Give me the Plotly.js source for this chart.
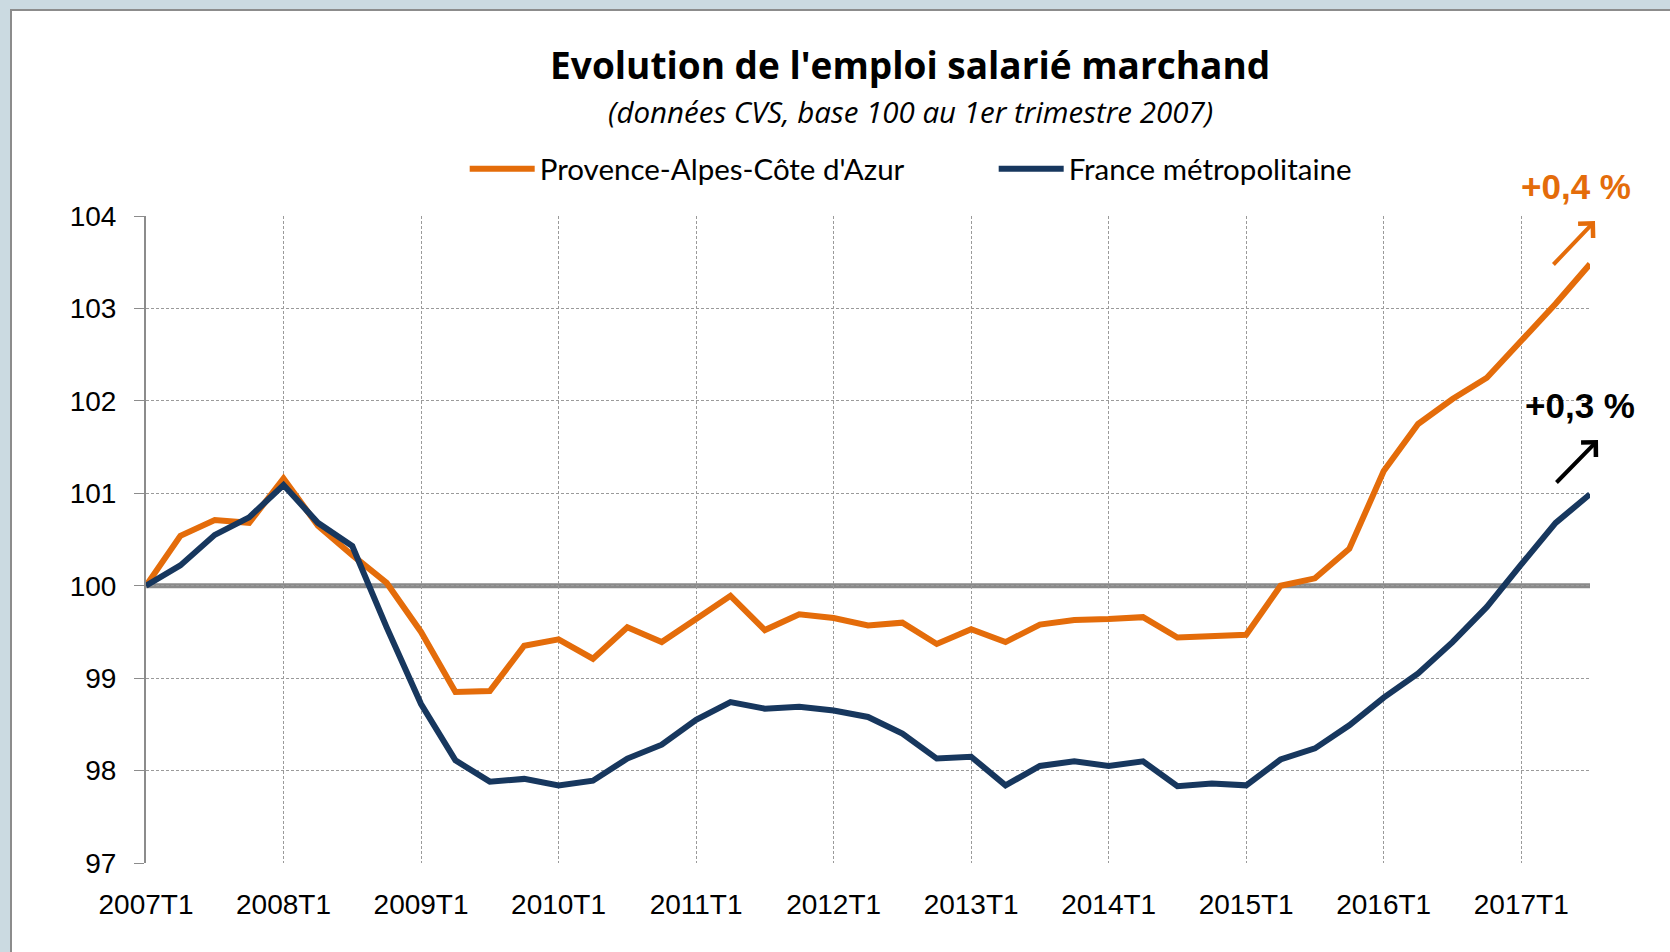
<!DOCTYPE html>
<html>
<head>
<meta charset="utf-8">
<script src="https://cdn.plot.ly/plotly-3.0.1.min.js"></script>
<style>
  html, body { margin: 0; padding: 0; background: #cbdae1; }
  #chart { width: 1670px; height: 952px; }
</style>
</head>
<body>
<div id="chart"></div>
<script>
// Quarterly categories 2007T1 .. 2017T3
const quarters = [
  "2007T1","2007T2","2007T3","2007T4",
  "2008T1","2008T2","2008T3","2008T4",
  "2009T1","2009T2","2009T3","2009T4",
  "2010T1","2010T2","2010T3","2010T4",
  "2011T1","2011T2","2011T3","2011T4",
  "2012T1","2012T2","2012T3","2012T4",
  "2013T1","2013T2","2013T3","2013T4",
  "2014T1","2014T2","2014T3","2014T4",
  "2015T1","2015T2","2015T3","2015T4",
  "2016T1","2016T2","2016T3","2016T4",
  "2017T1","2017T2","2017T3"
];

// Tick labels shown on the x axis
const xTickLabels = ["2007T1","2008T1","2009T1","2010T1","2011T1","2012T1",
                     "2013T1","2014T1","2015T1","2016T1","2017T1"];

// Provence-Alpes-Côte d'Azur (index, base 100 at 2007T1)
const paca = [
  100.00, 100.54, 100.71, 100.68,
  101.16, 100.65, 100.33, 100.03,
  99.50, 98.85, 98.86, 99.35,
  99.42, 99.21, 99.55, 99.39,
  99.64, 99.89, 99.52, 99.69,
  99.65, 99.57, 99.60, 99.37,
  99.53, 99.39, 99.58, 99.63,
  99.64, 99.66, 99.44, 99.46,
  99.47, 100.00, 100.08, 100.40,
  101.24, 101.75, 102.02, 102.25,
  102.65, 103.05, 103.48
];

// France métropolitaine
const france = [
  100.00, 100.22, 100.55, 100.74,
  101.09, 100.68, 100.43, 99.55,
  98.72, 98.11, 97.88, 97.91,
  97.84, 97.89, 98.13, 98.28,
  98.55, 98.74, 98.67, 98.69,
  98.65, 98.58, 98.40, 98.13,
  98.15, 97.84, 98.05, 98.10,
  98.05, 98.10, 97.83, 97.86,
  97.84, 98.12, 98.24, 98.49,
  98.79, 99.05, 99.39, 99.77,
  100.23, 100.68, 100.99
];

const seriesNames = ["Provence-Alpes-Côte d'Azur", "France métropolitaine"];
const seriesColors = ["#E46C0A", "#17375E"];
const yTicks = [97, 98, 99, 100, 101, 102, 103, 104];

const traces = [
  {
    x: quarters, y: paca, name: seriesNames[0], type: "scatter", mode: "lines",
    line: { color: seriesColors[0], width: 6 }
  },
  {
    x: quarters, y: france, name: seriesNames[1], type: "scatter", mode: "lines",
    line: { color: seriesColors[1], width: 6 }
  }
];

const tickFont = { family: "Liberation Sans, Arial, sans-serif", size: 28, color: "#000000" };

const layout = {
  width: 1670,
  height: 952,
  paper_bgcolor: "#cbdae1",
  plot_bgcolor: "rgba(0,0,0,0)",
  margin: { l: 146, r: 80, t: 216, b: 89, pad: 0 },
  showlegend: true,
  title: {
    text: "<b>Evolution de l'emploi salarié marchand</b>",
    font: { family: "Open Sans, Lato, sans-serif", size: 37, color: "#000000" },
    xref: "container", x: 0.545, xanchor: "center",
    yref: "container", y: 1 - 66 / 952, yanchor: "middle"
  },
  legend: {
    orientation: "h",
    x: 0.2207, xanchor: "left",
    y: 1.0726, yanchor: "middle",
    font: { family: "Lato, Open Sans, sans-serif", size: 29.5, color: "#000000" },
    bgcolor: "rgba(0,0,0,0)",
    itemwidth: 65,
    entrywidth: 449,
    entrywidthmode: "pixels"
  },
  xaxis: {
    type: "category",
    range: [0, quarters.length - 1],
    tickmode: "array",
    tickvals: xTickLabels,
    ticktext: xTickLabels,
    ticks: "",
    showline: false,
    showgrid: true,
    gridcolor: "#9a9a9a",
    gridwidth: 1,
    griddash: "3px,2px",
    zeroline: false,
    tickfont: tickFont,
    ticklabelstandoff: 22,
    fixedrange: true
  },
  yaxis: {
    range: [97, 104],
    tickmode: "array",
    tickvals: yTicks,
    ticktext: yTicks.map(String),
    ticks: "outside",
    ticklen: 10,
    tickwidth: 1,
    tickcolor: "#8c8c8c",
    showline: true,
    linecolor: "#8c8c8c",
    linewidth: 2,
    showgrid: true,
    gridcolor: "#9a9a9a",
    gridwidth: 1,
    griddash: "3px,2px",
    zeroline: false,
    tickfont: tickFont,
    ticklabelstandoff: 12,
    fixedrange: true
  },
  shapes: [
    // white chart frame
    {
      type: "rect", xref: "paper", yref: "paper",
      x0: (11 - 146) / 1444, x1: 2, y0: -1, y1: (863 - 10) / 647,
      fillcolor: "#ffffff", line: { color: "#8c8c8c", width: 2 }, layer: "below"
    },
    // base 100 reference line
    {
      type: "line", xref: "paper", yref: "y",
      x0: 0, x1: 1, y0: 100, y1: 100,
      line: { color: "#8a8a8a", width: 5 }, layer: "below"
    }
  ],
  annotations: [
    {
      text: "<i>(données CVS, base 100 au 1er trimestre 2007)</i>",
      xref: "paper", yref: "paper",
      x: (910 - 146) / 1444, y: (863 - 111) / 647,
      xanchor: "center", yanchor: "middle", showarrow: false,
      font: { family: "Open Sans, Lato, sans-serif", size: 29.5, color: "#000000" }
    },
    {
      text: "<b>+0,4 %</b>",
      xref: "paper", yref: "paper",
      x: (1576 - 146) / 1444, y: (863 - 187) / 647,
      xanchor: "center", yanchor: "middle", showarrow: false,
      font: { family: "Liberation Sans, Arial, sans-serif", size: 35, color: seriesColors[0] }
    },
    {
      text: "<b>+0,3 %</b>",
      xref: "paper", yref: "paper",
      x: (1580 - 146) / 1444, y: (863 - 405) / 647,
      xanchor: "center", yanchor: "middle", showarrow: false,
      font: { family: "Liberation Sans, Arial, sans-serif", size: 35, color: "#000000" }
    },
    {
      text: "", xref: "paper", yref: "paper",
      x: (1595 - 146) / 1444, y: (863 - 221) / 647,
      showarrow: true, arrowhead: 4, arrowsize: 1, arrowwidth: 4,
      arrowcolor: seriesColors[0], ax: -43, ay: 45, standoff: 0
    },
    {
      text: "", xref: "paper", yref: "paper",
      x: (1598 - 146) / 1444, y: (863 - 440) / 647,
      showarrow: true, arrowhead: 4, arrowsize: 1, arrowwidth: 4,
      arrowcolor: "#000000", ax: -43, ay: 44, standoff: 0
    }
  ]
};

Plotly.newPlot("chart", traces, layout, { displayModeBar: false, staticPlot: true });
</script>
</body>
</html>
